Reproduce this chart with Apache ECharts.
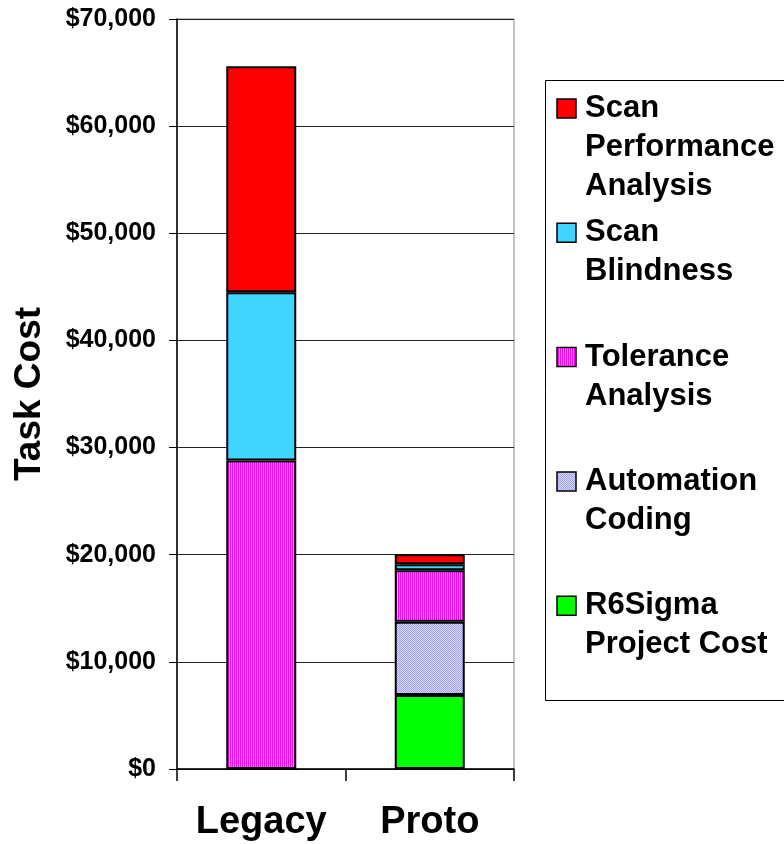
<!DOCTYPE html>
<html>
<head>
<meta charset="utf-8">
<script src="https://cdn.jsdelivr.net/npm/echarts@6/dist/echarts.min.js"></script>
<style>
  html, body { margin: 0; padding: 0; background: #fff; }
  #chart { width: 784px; height: 844px; }
</style>
</head>
<body>
<div id="chart"></div>
<script>
// Projects on the category axis
const categories = ['Legacy', 'Proto'];

// Cost components, stacked bottom to top (US dollars)
const r6SigmaProjectCost   = [0, 6900];
const automationCoding     = [0, 6850];
const toleranceAnalysis    = [28800, 4800];
const scanBlindness        = [15700, 560];
const scanPerformance      = [21100, 940];

// Value-axis ticks
const yTicks = [0, 10000, 20000, 30000, 40000, 50000, 60000, 70000];

const FONT = "'Liberation Sans', Arial, sans-serif";

// Small repeating fills for the textured segments
function makePattern(w, h, cells) {
  const c = document.createElement('canvas');
  c.width = w; c.height = h;
  const ctx = c.getContext('2d');
  cells.forEach(([x, y, col]) => { ctx.fillStyle = col; ctx.fillRect(x, y, 1, 1); });
  return { image: c, repeat: 'repeat' };
}
const pinkStripes = makePattern(2, 1, [[0, 0, '#FF00FF'], [1, 0, '#FF9CFF']]);
const lavenderDots = makePattern(2, 2, [
  [0, 0, '#A4A4F4'], [1, 0, '#D4D4FF'],
  [0, 1, '#D4D4FF'], [1, 1, '#A4A4F4']
]);

const seriesDefs = [
  { name: 'R6Sigma\nProject Cost',        data: r6SigmaProjectCost, fill: '#00FF00' },
  { name: 'Automation\nCoding',           data: automationCoding,   fill: lavenderDots },
  { name: 'Tolerance\nAnalysis',          data: toleranceAnalysis,  fill: pinkStripes },
  { name: 'Scan\nBlindness',              data: scanBlindness,      fill: '#3FD5FF' },
  { name: 'Scan\nPerformance\nAnalysis',  data: scanPerformance,    fill: '#FF0000' }
];

// Hand-built legend: top-down order is the reverse of the stacking order
const legendTop = 89, legendStep = 124.3;
const legendGraphics = [{
  type: 'rect',
  shape: { x: 545.5, y: 80.5, width: 260, height: 620 },
  style: { fill: '#fff', stroke: '#000', lineWidth: 1 }
}];
seriesDefs.slice().reverse().forEach((s, i) => {
  const top = legendTop + i * legendStep;
  legendGraphics.push({
    type: 'rect',
    shape: { x: 557, y: top + 10, width: 19, height: 19 },
    style: { fill: s.fill, stroke: '#000', lineWidth: 1.5 }
  });
  legendGraphics.push({
    type: 'text',
    x: 585, y: top,
    style: {
      text: s.name, fill: '#000',
      font: 'bold 31px ' + FONT, lineHeight: 39,
      verticalAlign: 'top', align: 'left'
    }
  });
});

const chart = echarts.init(document.getElementById('chart'), null, { renderer: 'canvas' });
chart.setOption({
  animation: false,
  backgroundColor: '#fff',
  grid: {
    left: 177, right: 270, top: 19, bottom: 75,
    outerBoundsMode: 'none',
    containLabel: false,
    show: true, borderColor: '#888', borderWidth: 1, backgroundColor: 'transparent'
  },
  xAxis: {
    type: 'category',
    data: categories,
    axisLine: { lineStyle: { color: '#000', width: 1.5 } },
    axisTick: { show: true, length: 12, lineStyle: { color: '#000', width: 1.5 } },
    axisLabel: {
      interval: 0, hideOverlap: false,
      color: '#000', fontFamily: FONT, fontWeight: 'bold', fontSize: 38, margin: 35
    }
  },
  yAxis: {
    type: 'value',
    min: yTicks[0],
    max: yTicks[yTicks.length - 1],
    interval: yTicks[1] - yTicks[0],
    name: 'Task Cost',
    nameLocation: 'middle',
    nameGap: 129,
    nameRotate: 90,
    nameMoveOverlap: false,
    nameTextStyle: { color: '#000', fontFamily: FONT, fontWeight: 'bold', fontSize: 37 },
    axisLine: { show: true, lineStyle: { color: '#000', width: 1.5 } },
    axisTick: { show: true, length: 8, lineStyle: { color: '#000', width: 1 } },
    axisLabel: {
      color: '#000', fontFamily: FONT, fontWeight: 'bold', fontSize: 25, margin: 21,
      formatter: v => '$' + v.toLocaleString('en-US')
    },
    splitLine: { show: true, lineStyle: { color: '#222', width: 1 } }
  },
  graphic: legendGraphics,
  series: seriesDefs.map(s => ({
    type: 'bar',
    name: s.name,
    stack: 'cost',
    barWidth: 70,
    data: s.data,
    itemStyle: { color: s.fill, borderColor: '#000', borderWidth: 2 }
  }))
});
</script>
</body>
</html>
